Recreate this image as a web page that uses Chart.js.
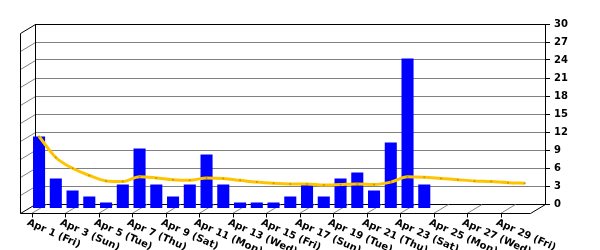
<!DOCTYPE html>
<html lang="en">
<head>
    <meta charset="UTF-8">
    <title>Daily hits, April</title>
    <script src="https://cdn.jsdelivr.net/npm/chart.js"></script>
    <style>
        body {
            margin: 0;
            padding: 0;
            background-color: #fff;
        }
    </style>
</head>
<body>
    <canvas id="myChart" width="600" height="250"></canvas>

    <script>
        // one label per day, only every second one is written under the floor
        var days = ['Apr 1 (Fri)', 'Apr 2 (Sat)', 'Apr 3 (Sun)', 'Apr 4 (Mon)', 'Apr 5 (Tue)',
            'Apr 6 (Wed)', 'Apr 7 (Thu)', 'Apr 8 (Fri)', 'Apr 9 (Sat)', 'Apr 10 (Sun)',
            'Apr 11 (Mon)', 'Apr 12 (Tue)', 'Apr 13 (Wed)', 'Apr 14 (Thu)', 'Apr 15 (Fri)',
            'Apr 16 (Sat)', 'Apr 17 (Sun)', 'Apr 18 (Mon)', 'Apr 19 (Tue)', 'Apr 20 (Wed)',
            'Apr 21 (Thu)', 'Apr 22 (Fri)', 'Apr 23 (Sat)', 'Apr 24 (Sun)', 'Apr 25 (Mon)',
            'Apr 26 (Tue)', 'Apr 27 (Wed)', 'Apr 28 (Thu)', 'Apr 29 (Fri)', 'Apr 30 (Sat)'];
        var dailyValues = [12, 5, 3, 2, 1, 4, 10, 4, 2, 4, 9, 4, 1, 1, 1, 2, 4, 2, 5, 6, 3, 11, 25, 4];
        var averageValues = [12, 8.5, 6.7, 5.5, 4.6, 4.5, 5.3, 5.1, 4.8, 4.7, 5.1, 5.0, 4.7, 4.4, 4.2,
            4.1, 4.1, 3.9, 4.0, 4.1, 4.0, 4.4, 5.3, 5.2, 5.0, 4.8, 4.6, 4.5, 4.3, 4.2];
        var yTicks = [0, 3, 6, 9, 12, 15, 18, 21, 24, 27, 30];

        var depthX = -15, depthY = 9;  // back wall -> front edge

        Chart.defaults.font.family = "'DejaVu Sans', sans-serif";
        Chart.defaults.font.size = 10;
        Chart.defaults.font.weight = 'bold';
        Chart.defaults.color = '#000';

        // fake 3D box: left wall, floor, ticks and slanted day labels
        var boxPlugin = {
            id: 'box3d',
            beforeDatasetsDraw: function (chart) {
                var ctx = chart.ctx;
                var a = chart.chartArea;
                var xs = chart.scales.x, ys = chart.scales.y;
                ctx.save();
                ctx.lineWidth = 1;

                // left wall grid lines
                ctx.strokeStyle = '#808080';
                yTicks.forEach(function (v) {
                    if (v === 0 || v === 30) return;
                    var y = Math.round(ys.getPixelForValue(v)) + 0.5;
                    ctx.beginPath();
                    ctx.moveTo(a.left + 0.5, y);
                    ctx.lineTo(a.left + 0.5 + depthX, y + depthY);
                    ctx.stroke();
                });

                // floor lines under every labelled day
                for (var i = 0; i < days.length; i += 2) {
                    var xb = xs.getPixelForValue(i);
                    ctx.beginPath();
                    ctx.moveTo(xb, a.bottom + 0.5);
                    ctx.lineTo(xb + depthX, a.bottom + depthY + 0.5);
                    ctx.stroke();
                }

                // box edges
                ctx.strokeStyle = '#000';
                var l = a.left + 0.5, t = Math.round(a.top) + 0.5, b = Math.round(a.bottom) + 0.5, r = a.right + 0.5;
                ctx.beginPath();
                ctx.moveTo(l, b); ctx.lineTo(l, t);
                ctx.moveTo(l, t); ctx.lineTo(l + depthX, t + depthY);
                ctx.lineTo(l + depthX, b + depthY);
                ctx.lineTo(r + depthX, b + depthY);
                ctx.lineTo(r, b);
                ctx.moveTo(l, b); ctx.lineTo(l + depthX, b + depthY);
                ctx.stroke();

                // ticks and labels on the front edge
                ctx.fillStyle = '#000';
                ctx.font = Chart.helpers.toFont(Chart.defaults.font).string;
                ctx.textAlign = 'left';
                ctx.textBaseline = 'top';
                for (var j = 0; j < days.length; j += 2) {
                    var xf = Math.round(xs.getPixelForValue(j) + depthX) + 0.5;
                    var yf = b + depthY;
                    ctx.beginPath();
                    ctx.moveTo(xf, yf);
                    ctx.lineTo(xf, yf + 4);
                    ctx.stroke();
                    ctx.save();
                    ctx.translate(xf - 3, yf + 4);
                    ctx.rotate(24 * Math.PI / 180);
                    ctx.fillText(days[j], 0, 0);
                    ctx.restore();
                }
                ctx.restore();

                // bars and line sit half way into the box
                ctx.save();
                ctx.translate(depthX / 2, depthY / 2);
            },
            afterDatasetsDraw: function (chart) {
                chart.ctx.restore();
            }
        };

        var ctx = document.getElementById('myChart').getContext('2d');
        var myChart = new Chart(ctx, {
            data: {
                datasets: [{
                    type: 'line',
                    order: 0,
                    data: averageValues.map(function (v, i) { return { x: i, y: v }; }),
                    borderColor: '#ffc400',
                    borderWidth: 3,
                    pointRadius: 1,
                    pointBackgroundColor: '#c89600',
                    pointBorderWidth: 0,
                    cubicInterpolationMode: 'monotone'
                }, {
                    type: 'bar',
                    order: 1,
                    data: dailyValues.map(function (v, i) { return { x: i, y: v }; }),
                    backgroundColor: '#0000ff',
                    borderWidth: 0,
                    barPercentage: 0.72,
                    categoryPercentage: 1
                }]
            },
            options: {
                responsive: false,
                animation: false,
                layout: {
                    padding: { left: 35, right: 0, top: 24, bottom: 46 }
                },
                plugins: {
                    legend: { display: false },
                    tooltip: { enabled: false }
                },
                scales: {
                    x: {
                        type: 'linear',
                        display: false,
                        offset: false,
                        bounds: 'ticks',
                        min: -0.69,
                        max: 29.76
                    },
                    y: {
                        position: 'right',
                        min: 0,
                        max: 30,
                        afterFit: function (s) { s.width = 55; },
                        ticks: { stepSize: 3, padding: 4 },
                        border: { display: true, color: '#000' },
                        grid: {
                            color: function (c) {
                                return (c.tick && (c.tick.value === 0 || c.tick.value === 30)) ? '#000' : '#808080';
                            },
                            tickColor: '#000',
                            tickLength: 5
                        }
                    }
                }
            },
            plugins: [boxPlugin]
        });
    </script>
</body>
</html>
